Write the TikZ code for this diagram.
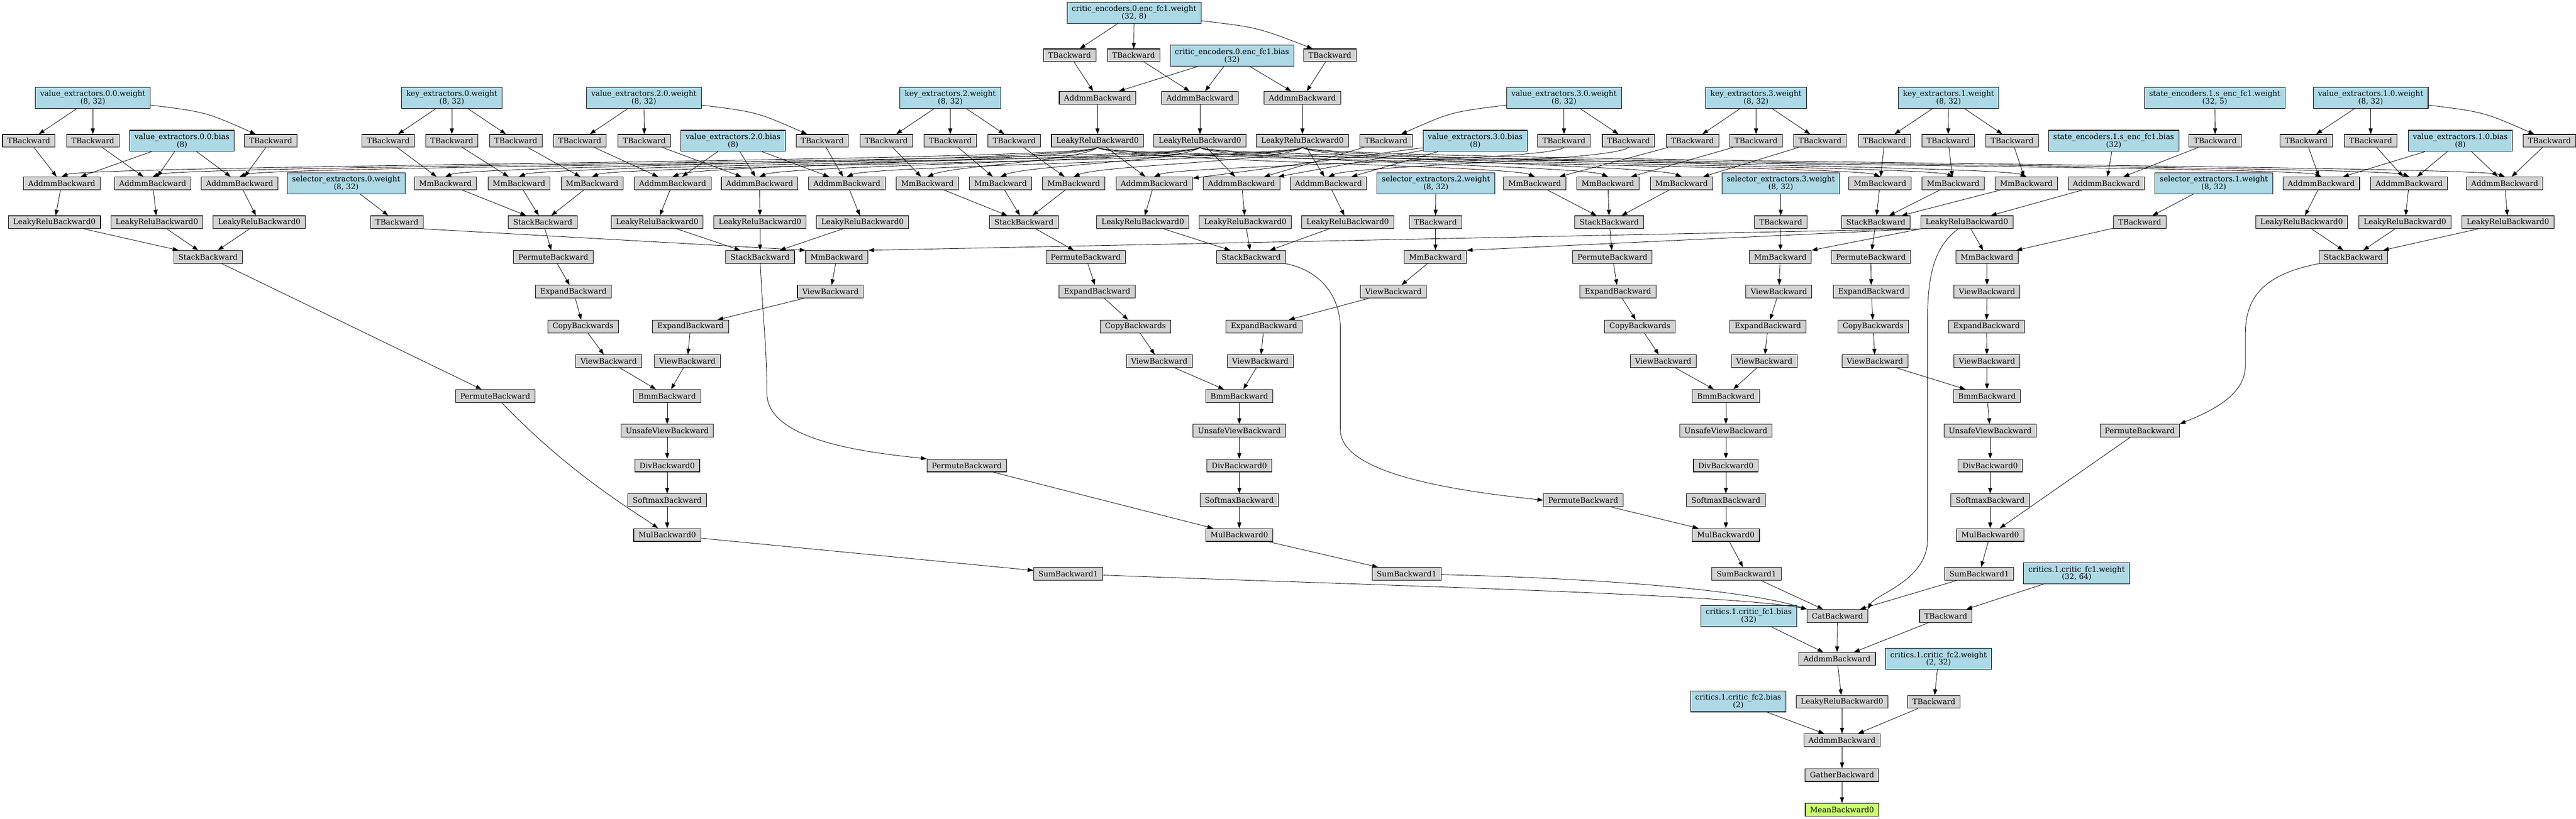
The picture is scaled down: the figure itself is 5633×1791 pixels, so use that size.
\documentclass[tikz,border=0pt]{standalone}
\usepackage{fontspec}
\setmainfont{DejaVu Serif}
\usepackage{tikz}
\usetikzlibrary{arrows.meta}
\definecolor{weight}{rgb}{0.678,0.847,0.902}
\definecolor{grad}{rgb}{0.827,0.827,0.827}
\definecolor{root}{rgb}{0.792,1,0.439}

\begin{document}
\begin{tikzpicture}[x=0.02cm,y=-0.02cm,
  fn/.style={draw,fill=grad,line width=0.7pt,minimum height=0.56cm,inner xsep=0.21cm,inner ysep=0pt,font=\fontsize{9.3}{9.45}\selectfont},
  par/.style={fn,fill=weight,minimum height=0.92cm,align=center},
  link/.style={-{Triangle[length=0.25cm,width=0.18cm]},line width=0.55pt},
  tl/.style={to path={.. controls +(-40,30) and +(60,-25) .. (\tikztotarget)}},
  tr/.style={to path={.. controls +(40,30) and +(-60,-25) .. (\tikztotarget)}}]
\useasboundingbox (0,0) rectangle (5633,1791);

\node[par] (cw) at (2480,28) {critic\_encoders.0.enc\_fc1.weight\\(32, 8)};
\node[fn] (ct1) at (2339,121) {TBackward};
\node[fn] (ct2) at (2479,121) {TBackward};
\node[par] (cb) at (2694,122) {critic\_encoders.0.enc\_fc1.bias\\(32)};
\node[fn] (ct3) at (2908,121) {TBackward};
\node[fn] (ca1) at (2400,214) {AddmmBackward};
\node[fn] (ca2) at (2624,214) {AddmmBackward};
\node[fn] (ca3) at (2848,214) {AddmmBackward};
\node[fn] (cl1) at (2400,308) {LeakyReluBackward0};
\node[fn] (cl2) at (2624,308) {LeakyReluBackward0};
\node[fn] (cl3) at (2848,308) {LeakyReluBackward0};

\node[par] (vw0) at (203,214) {value\_extractors.0.0.weight\\(8, 32)};
\node[fn] (vt01) at (63,308) {TBackward};
\node[fn] (vt02) at (203,308) {TBackward};
\node[par] (vb0) at (398,308) {value\_extractors.0.0.bias\\(8)};
\node[fn] (vt03) at (592,308) {TBackward};
\node[fn] (va01) at (135,401) {AddmmBackward};
\node[fn] (va02) at (334,401) {AddmmBackward};
\node[fn] (va03) at (524,401) {AddmmBackward};
\node[fn] (vl01) at (119,486) {LeakyReluBackward0};
\node[fn] (vl02) at (343,486) {LeakyReluBackward0};
\node[fn] (vl03) at (567,486) {LeakyReluBackward0};
\node[fn] (vs0) at (455,562) {StackBackward};
\node[fn] (vp0) at (1083,866) {PermuteBackward};

\node[par] (kw0) at (988,214) {key\_extractors.0.weight\\(8, 32)};
\node[fn] (kt01) at (849,308) {TBackward};
\node[fn] (kt02) at (988,308) {TBackward};
\node[fn] (kt03) at (1128,308) {TBackward};
\node[fn] (km01) at (974,401) {MmBackward};
\node[fn] (km02) at (1135,401) {MmBackward};
\node[fn] (km03) at (1295,401) {MmBackward};
\node[fn] (ks0) at (1187,486) {StackBackward};
\node[fn] (kp0) at (1210,562) {PermuteBackward};
\node[fn] (ke0) at (1254,638) {ExpandBackward};
\node[fn] (kc0) at (1275,714) {CopyBackwards};
\node[fn] (kv0) at (1331,790) {ViewBackward};
\node[par] (sw0) at (757,401) {selector\_extractors.0.weight\\(8, 32)};
\node[fn] (st0) at (868,486) {TBackward};
\node[fn] (sm0) at (1830,562) {MmBackward};
\node[fn] (sv0) at (1816,638) {ViewBackward};
\node[fn] (se0) at (1510,714) {ExpandBackward};
\node[fn] (sx0) at (1503,790) {ViewBackward};
\node[fn] (bm0) at (1459,866) {BmmBackward};
\node[fn] (uv0) at (1459,942) {UnsafeViewBackward};
\node[fn] (dv0) at (1459,1018) {DivBackward0};
\node[fn] (sf0) at (1459,1094) {SoftmaxBackward};
\node[fn] (ml0) at (1459,1170) {MulBackward0};
\node[fn] (su0) at (2336,1255) {SumBackward1};

\node[par] (vw2) at (1408,214) {value\_extractors.2.0.weight\\(8, 32)};
\node[fn] (vt21) at (1268,308) {TBackward};
\node[fn] (vt22) at (1409,308) {TBackward};
\node[par] (vb2) at (1603,308) {value\_extractors.2.0.bias\\(8)};
\node[fn] (vt23) at (1798,308) {TBackward};
\node[fn] (va21) at (1471,401) {AddmmBackward};
\node[fn] (va22) at (1661,401) {AddmmBackward};
\node[fn] (va23) at (1852,401) {AddmmBackward};
\node[fn] (vl21) at (1437,486) {LeakyReluBackward0};
\node[fn] (vl22) at (1662,486) {LeakyReluBackward0};
\node[fn] (vl23) at (1886,486) {LeakyReluBackward0};
\node[fn] (vs2) at (1662,562) {StackBackward};
\node[fn] (vp2) at (2114,1018) {PermuteBackward};

\node[par] (kw2) at (2078,214) {key\_extractors.2.weight\\(8, 32)};
\node[fn] (kt21) at (1938,308) {TBackward};
\node[fn] (kt22) at (2078,308) {TBackward};
\node[fn] (kt23) at (2218,308) {TBackward};
\node[fn] (km21) at (2028,401) {MmBackward};
\node[fn] (km22) at (2188,401) {MmBackward};
\node[fn] (km23) at (2348,401) {MmBackward};
\node[fn] (ks2) at (2239,486) {StackBackward};
\node[fn] (kp2) at (2374,562) {PermuteBackward};
\node[fn] (ke2) at (2399,638) {ExpandBackward};
\node[fn] (kc2) at (2483,714) {CopyBackwards};
\node[fn] (kv2) at (2535,790) {ViewBackward};
\node[par] (sw2) at (3140,401) {selector\_extractors.2.weight\\(8, 32)};
\node[fn] (st2) at (3139,486) {TBackward};
\node[fn] (sm2) at (3139,562) {MmBackward};
\node[fn] (sv2) at (3047,638) {ViewBackward};
\node[fn] (se2) at (2764,714) {ExpandBackward};
\node[fn] (sx2) at (2756,790) {ViewBackward};
\node[fn] (bm2) at (2710,866) {BmmBackward};
\node[fn] (uv2) at (2710,942) {UnsafeViewBackward};
\node[fn] (dv2) at (2710,1018) {DivBackward0};
\node[fn] (sf2) at (2710,1094) {SoftmaxBackward};
\node[fn] (ml2) at (2710,1170) {MulBackward0};
\node[fn] (su2) at (3076,1255) {SumBackward1};

\node[par] (vw3) at (3420,214) {value\_extractors.3.0.weight\\(8, 32)};
\node[fn] (vt31) at (3031,308) {TBackward};
\node[par] (vb3) at (3226,308) {value\_extractors.3.0.bias\\(8)};
\node[fn] (vt32) at (3420,308) {TBackward};
\node[fn] (vt33) at (3561,308) {TBackward};
\node[fn] (va31) at (2524,401) {AddmmBackward};
\node[fn] (va32) at (2715,401) {AddmmBackward};
\node[fn] (va33) at (2905,401) {AddmmBackward};
\node[fn] (vl31) at (2499,486) {LeakyReluBackward0};
\node[fn] (vl32) at (2723,486) {LeakyReluBackward0};
\node[fn] (vl33) at (2947,486) {LeakyReluBackward0};
\node[fn] (vs3) at (2736,562) {StackBackward};
\node[fn] (vp3) at (3462,1094) {PermuteBackward};

\node[par] (kw3) at (3840,214) {key\_extractors.3.weight\\(8, 32)};
\node[fn] (kt31) at (3701,308) {TBackward};
\node[fn] (kt32) at (3840,308) {TBackward};
\node[fn] (kt33) at (3980,308) {TBackward};
\node[fn] (km31) at (3356,401) {MmBackward};
\node[fn] (km32) at (3516,401) {MmBackward};
\node[fn] (km33) at (3677,401) {MmBackward};
\node[fn] (ks3) at (3519,486) {StackBackward};
\node[fn] (kp3) at (3526,562) {PermuteBackward};
\node[fn] (ke3) at (3538,638) {ExpandBackward};
\node[fn] (kc3) at (3586,714) {CopyBackwards};
\node[fn] (kv3) at (3637,790) {ViewBackward};
\node[par] (sw3) at (3894,401) {selector\_extractors.3.weight\\(8, 32)};
\node[fn] (st3) at (3894,486) {TBackward};
\node[fn] (sm3) at (3893,562) {MmBackward};
\node[fn] (sv3) at (3890,638) {ViewBackward};
\node[fn] (se3) at (3866,714) {ExpandBackward};
\node[fn] (sx3) at (3858,790) {ViewBackward};
\node[fn] (bm3) at (3774,866) {BmmBackward};
\node[fn] (uv3) at (3774,942) {UnsafeViewBackward};
\node[fn] (dv3) at (3774,1018) {DivBackward0};
\node[fn] (sf3) at (3774,1094) {SoftmaxBackward};
\node[fn] (ml3) at (3774,1170) {MulBackward0};
\node[fn] (su3) at (3819,1255) {SumBackward1};

\node[par] (kw1) at (4261,214) {key\_extractors.1.weight\\(8, 32)};
\node[fn] (kt11) at (4121,308) {TBackward};
\node[fn] (kt12) at (4260,308) {TBackward};
\node[fn] (kt13) at (4400,308) {TBackward};
\node[fn] (km11) at (4111,401) {MmBackward};
\node[fn] (km12) at (4271,401) {MmBackward};
\node[fn] (km13) at (4431,401) {MmBackward};
\node[fn] (ks1) at (4102,486) {StackBackward};
\node[fn] (kp1) at (4091,562) {PermuteBackward};
\node[fn] (ke1) at (4092,638) {ExpandBackward};
\node[fn] (kc1) at (4096,714) {CopyBackwards};
\node[fn] (kv1) at (4100,790) {ViewBackward};
\node[par] (sw1) at (4841,401) {selector\_extractors.1.weight\\(8, 32)};
\node[fn] (st1) at (4679,486) {TBackward};
\node[fn] (sm1) at (4345,562) {MmBackward};
\node[fn] (sv1) at (4345,638) {ViewBackward};
\node[fn] (se1) at (4344,714) {ExpandBackward};
\node[fn] (sx1) at (4345,790) {ViewBackward};
\node[fn] (bm1) at (4345,866) {BmmBackward};
\node[fn] (uv1) at (4352,942) {UnsafeViewBackward};
\node[fn] (dv1) at (4352,1018) {DivBackward0};
\node[fn] (sf1) at (4352,1094) {SoftmaxBackward};
\node[fn] (ml1) at (4352,1170) {MulBackward0};
\node[fn] (su1) at (4328,1255) {SumBackward1};

\node[par] (sew) at (4843,214) {state\_encoders.1.s\_enc\_fc1.weight\\(32, 5)};
\node[par] (seb) at (4622,308) {state\_encoders.1.s\_enc\_fc1.bias\\(32)};
\node[fn] (set) at (4844,308) {TBackward};
\node[fn] (sea) at (4606,401) {AddmmBackward};
\node[fn] (sl) at (4301,486) {LeakyReluBackward0};

\node[par] (vw1) at (5184,214) {value\_extractors.1.0.weight\\(8, 32)};
\node[fn] (vt11) at (5043,308) {TBackward};
\node[fn] (vt12) at (5184,308) {TBackward};
\node[par] (vb1) at (5380,308) {value\_extractors.1.0.bias\\(8)};
\node[fn] (vt13) at (5575,308) {TBackward};
\node[fn] (va11) at (5076,401) {AddmmBackward};
\node[fn] (va12) at (5268,401) {AddmmBackward};
\node[fn] (va13) at (5477,401) {AddmmBackward};
\node[fn] (vl11) at (5033,486) {LeakyReluBackward0};
\node[fn] (vl12) at (5259,486) {LeakyReluBackward0};
\node[fn] (vl13) at (5484,486) {LeakyReluBackward0};
\node[fn] (vs1) at (5146,562) {StackBackward};
\node[fn] (vp1) at (4679,942) {PermuteBackward};

\node[par] (fc1w) at (4541,1254) {critics.1.critic\_fc1.weight\\(32, 64)};
\node[par] (fc1b) at (3824,1347) {critics.1.critic\_fc1.bias\\(32)};
\node[fn] (cat) at (4018,1347) {CatBackward};
\node[fn] (ft1) at (4255,1347) {TBackward};
\node[fn] (af1) at (4017,1441) {AddmmBackward};
\node[par] (fc2w) at (4239,1441) {critics.1.critic\_fc2.weight\\(2, 32)};
\node[par] (fc2b) at (3801,1534) {critics.1.critic\_fc2.bias\\(2)};
\node[fn] (lr) at (4028,1535) {LeakyReluBackward0};
\node[fn] (ft2) at (4229,1535) {TBackward};
\node[fn] (af2) at (4028,1619) {AddmmBackward};
\node[fn] (ga) at (4028,1695) {GatherBackward};
\node[fn,fill=root] (mn) at (4028,1771) {MeanBackward0};

\draw[link] (cw) -- (ct1);
\draw[link] (cw) -- (ct2);
\draw[link] (cw) .. controls (2750,60) .. (ct3);
\draw[link] (ct1) -- (ca1);
\draw[link] (ct2) -- (ca2);
\draw[link] (ct3) -- (ca3);
\draw[link] (cb) -- (ca1);
\draw[link] (cb) -- (ca2);
\draw[link] (cb) -- (ca3);
\draw[link] (ca1) -- (cl1);
\draw[link] (ca2) -- (cl2);
\draw[link] (ca3) -- (cl3);

\draw[link] (cl1.south) to[tl] (va01.north);
\draw[link] (cl2.south) to[tl] (va02.north);
\draw[link] (cl3.south) to[tl] (va03.north);
\draw[link] (cl1.south) to[tl] (km01.north);
\draw[link] (cl2.south) to[tl] (km02.north);
\draw[link] (cl3.south) to[tl] (km03.north);
\draw[link] (cl1.south) to[tl] (va21.north);
\draw[link] (cl2.south) to[tl] (va22.north);
\draw[link] (cl3.south) to[tl] (va23.north);
\draw[link] (cl1.south) to[tl] (km21.north);
\draw[link] (cl2.south) to[tl] (km22.north);
\draw[link] (cl3.south) to[tl] (km23.north);
\draw[link] (cl1) -- (va31);
\draw[link] (cl2) -- (va32);
\draw[link] (cl3) -- (va33);
\draw[link] (cl1.south) to[tr] (km31.north);
\draw[link] (cl2.south) to[tr] (km32.north);
\draw[link] (cl3.south) to[tr] (km33.north);
\draw[link] (cl1.south) to[tr] (km11.north);
\draw[link] (cl2.south) to[tr] (km12.north);
\draw[link] (cl3.south) to[tr] (km13.north);
\draw[link] (cl1.south) to[tr] (va11.north);
\draw[link] (cl2.south) to[tr] (va12.north);
\draw[link] (cl3.south) to[tr] (va13.north);

\draw[link] (vw0) -- (vt01);
\draw[link] (vw0) -- (vt02);
\draw[link] (vw0) .. controls (450,245) .. (vt03);
\draw[link] (vt01) -- (va01);
\draw[link] (vt02) -- (va02);
\draw[link] (vt03) -- (va03);
\draw[link] (vb0) -- (va01);
\draw[link] (vb0) -- (va02);
\draw[link] (vb0) -- (va03);
\draw[link] (va01) -- (vl01);
\draw[link] (va02) -- (vl02);
\draw[link] (va03) -- (vl03);
\draw[link] (vl01) -- (vs0);
\draw[link] (vl02) -- (vs0);
\draw[link] (vl03) -- (vs0);
\draw[link] (vs0) -- (vp0);
\draw[link] (vp0) .. controls (1250,1040) and (1390,1120) .. (ml0);

\draw[link] (kw0) -- (kt01);
\draw[link] (kw0) -- (kt02);
\draw[link] (kw0) -- (kt03);
\draw[link] (kt01) -- (km01);
\draw[link] (kt02) -- (km02);
\draw[link] (kt03) -- (km03);
\draw[link] (km01) -- (ks0);
\draw[link] (km02) -- (ks0);
\draw[link] (km03) -- (ks0);
\draw[link] (ks0) -- (kp0);
\draw[link] (kp0) -- (ke0);
\draw[link] (ke0) -- (kc0);
\draw[link] (kc0) -- (kv0);
\draw[link] (kv0) -- (bm0);
\draw[link] (sw0) -- (st0);
\draw[link] (st0.south east) -- (sm0.north west);
\draw[link] (sm0) -- (sv0);
\draw[link] (sv0) -- (se0);
\draw[link] (se0) -- (sx0);
\draw[link] (sx0) -- (bm0);
\draw[link] (bm0) -- (uv0);
\draw[link] (uv0) -- (dv0);
\draw[link] (dv0) -- (sf0);
\draw[link] (sf0) -- (ml0);
\draw[link] (ml0) -- (su0);

\draw[link] (vw2) -- (vt21);
\draw[link] (vw2) -- (vt22);
\draw[link] (vw2) .. controls (1655,245) .. (vt23);
\draw[link] (vt21) -- (va21);
\draw[link] (vt22) -- (va22);
\draw[link] (vt23) -- (va23);
\draw[link] (vb2) -- (va21);
\draw[link] (vb2) -- (va22);
\draw[link] (vb2) -- (va23);
\draw[link] (va21) -- (vl21);
\draw[link] (va22) -- (vl22);
\draw[link] (va23) -- (vl23);
\draw[link] (vl21) -- (vs2);
\draw[link] (vl22) -- (vs2);
\draw[link] (vl23) -- (vs2);
\draw[link] (vs2) .. controls (1668,700) and (1677,760) .. (1677,860) .. controls (1677,965) and (1900,990) .. (vp2.north west);
\draw[link] (vp2) -- (ml2);

\draw[link] (kw2) -- (kt21);
\draw[link] (kw2) -- (kt22);
\draw[link] (kw2) -- (kt23);
\draw[link] (kt21) -- (km21);
\draw[link] (kt22) -- (km22);
\draw[link] (kt23) -- (km23);
\draw[link] (km21) -- (ks2);
\draw[link] (km22) -- (ks2);
\draw[link] (km23) -- (ks2);
\draw[link] (ks2) -- (kp2);
\draw[link] (kp2) -- (ke2);
\draw[link] (ke2) -- (kc2);
\draw[link] (kc2) -- (kv2);
\draw[link] (kv2) -- (bm2);
\draw[link] (sw2) -- (st2);
\draw[link] (st2) -- (sm2);
\draw[link] (sm2) -- (sv2);
\draw[link] (sv2) -- (se2);
\draw[link] (se2) -- (sx2);
\draw[link] (sx2) -- (bm2);
\draw[link] (bm2) -- (uv2);
\draw[link] (uv2) -- (dv2);
\draw[link] (dv2) -- (sf2);
\draw[link] (sf2) -- (ml2);
\draw[link] (ml2) -- (su2);

\draw[link] (vw3) .. controls (3173,245) .. (vt31);
\draw[link] (vw3) -- (vt32);
\draw[link] (vw3) -- (vt33);
\draw[link] (vt31) -- (va32);
\draw[link] (vt32.south) to[tl] (va31.north);
\draw[link] (vt33.south) to[tl] (va33.north);
\draw[link] (vb3) -- (va31);
\draw[link] (vb3) -- (va32);
\draw[link] (vb3) -- (va33);
\draw[link] (va31) -- (vl31);
\draw[link] (va32) -- (vl32);
\draw[link] (va33) -- (vl33);
\draw[link] (vl31) -- (vs3);
\draw[link] (vl32) -- (vs3);
\draw[link] (vl33) -- (vs3);
\draw[link] (vs3) .. controls (2880,590) and (2931,640) .. (2931,720) -- (2931,940) .. controls (2931,1040) and (3200,1075) .. (vp3.west);
\draw[link] (vp3) -- (ml3);

\draw[link] (kw3) -- (kt31);
\draw[link] (kw3) -- (kt32);
\draw[link] (kw3) -- (kt33);
\draw[link] (kt31) -- (km31);
\draw[link] (kt32) -- (km32);
\draw[link] (kt33) -- (km33);
\draw[link] (km31) -- (ks3);
\draw[link] (km32) -- (ks3);
\draw[link] (km33) -- (ks3);
\draw[link] (ks3) -- (kp3);
\draw[link] (kp3) -- (ke3);
\draw[link] (ke3) -- (kc3);
\draw[link] (kc3) -- (kv3);
\draw[link] (kv3) -- (bm3);
\draw[link] (sw3) -- (st3);
\draw[link] (st3) -- (sm3);
\draw[link] (sm3) -- (sv3);
\draw[link] (sv3) -- (se3);
\draw[link] (se3) -- (sx3);
\draw[link] (sx3) -- (bm3);
\draw[link] (bm3) -- (uv3);
\draw[link] (uv3) -- (dv3);
\draw[link] (dv3) -- (sf3);
\draw[link] (sf3) -- (ml3);
\draw[link] (ml3) -- (su3);

\draw[link] (kw1) -- (kt11);
\draw[link] (kw1) -- (kt12);
\draw[link] (kw1) -- (kt13);
\draw[link] (kt11) -- (km11);
\draw[link] (kt12) -- (km12);
\draw[link] (kt13) -- (km13);
\draw[link] (km11) -- (ks1);
\draw[link] (km12) -- (ks1);
\draw[link] (km13) -- (ks1);
\draw[link] (ks1) -- (kp1);
\draw[link] (kp1) -- (ke1);
\draw[link] (ke1) -- (kc1);
\draw[link] (kc1) -- (kv1);
\draw[link] (kv1) -- (bm1);
\draw[link] (sw1) -- (st1);
\draw[link] (st1) -- (sm1);
\draw[link] (sm1) -- (sv1);
\draw[link] (sv1) -- (se1);
\draw[link] (se1) -- (sx1);
\draw[link] (sx1) -- (bm1);
\draw[link] (bm1) -- (uv1);
\draw[link] (uv1) -- (dv1);
\draw[link] (dv1) -- (sf1);
\draw[link] (sf1) -- (ml1);
\draw[link] (ml1) -- (su1);

\draw[link] (sew) -- (set);
\draw[link] (set) -- (sea);
\draw[link] (seb) -- (sea);
\draw[link] (sea) -- (sl);
\draw[link] (sl.south west) -- (sm0.north east);
\draw[link] (sl.south west) -- (sm2.north east);
\draw[link] (sl.south west) -- (sm3.north east);
\draw[link] (sl) -- (sm1);
\draw[link] (sl) .. controls (4230,540) and (4215,600) .. (4215,700) -- (4215,1180) .. controls (4215,1270) and (4100,1300) .. (cat.north east);

\draw[link] (vw1) -- (vt11);
\draw[link] (vw1) -- (vt12);
\draw[link] (vw1) .. controls (5431,245) .. (vt13);
\draw[link] (vt11) -- (va11);
\draw[link] (vt12) -- (va12);
\draw[link] (vt13) -- (va13);
\draw[link] (vb1) -- (va11);
\draw[link] (vb1) -- (va12);
\draw[link] (vb1) -- (va13);
\draw[link] (va11) -- (vl11);
\draw[link] (va12) -- (vl12);
\draw[link] (va13) -- (vl13);
\draw[link] (vl11) -- (vs1);
\draw[link] (vl12) -- (vs1);
\draw[link] (vl13) -- (vs1);
\draw[link] (vs1) .. controls (4950,600) and (4910,650) .. (4910,730) -- (4910,800) .. controls (4910,870) and (4820,905) .. (vp1.north east);
\draw[link] (vp1) -- (ml1);

\draw[link] (su0) .. controls (3000,1280) and (3800,1300) .. (cat.north west);
\draw[link] (su2) .. controls (3500,1265) and (3820,1290) .. (cat.north west);
\draw[link] (su3) -- (cat);
\draw[link] (su1) -- (cat);
\draw[link] (fc1w) -- (ft1);
\draw[link] (cat) -- (af1);
\draw[link] (fc1b) -- (af1);
\draw[link] (ft1) -- (af1);
\draw[link] (af1) -- (lr);
\draw[link] (fc2w) -- (ft2);
\draw[link] (lr) -- (af2);
\draw[link] (fc2b) -- (af2);
\draw[link] (ft2) -- (af2);
\draw[link] (af2) -- (ga);
\draw[link] (ga) -- (mn);
\end{tikzpicture}
\end{document}
